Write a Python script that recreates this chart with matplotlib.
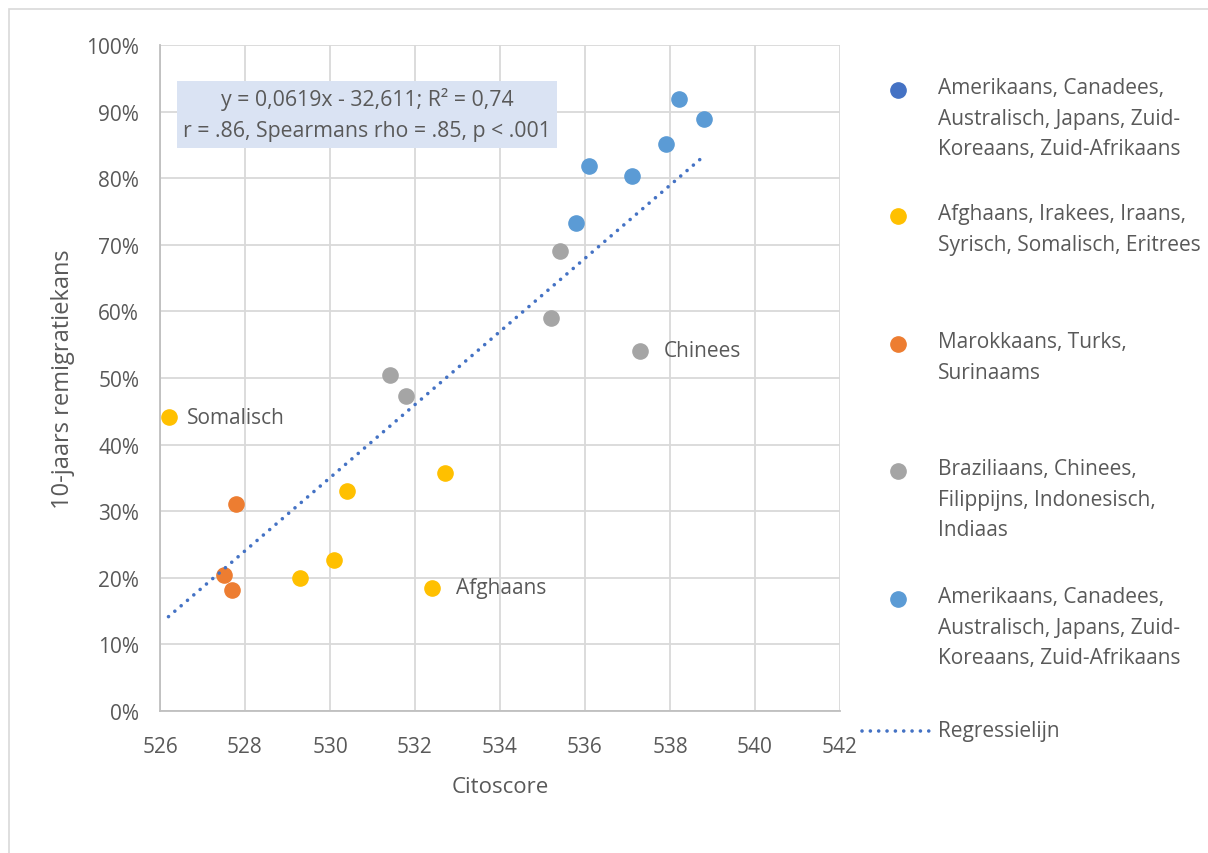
import numpy as np
import matplotlib
matplotlib.use("Agg")
import matplotlib.pyplot as plt
from matplotlib.patches import Rectangle
from matplotlib.lines import Line2D

plt.rcParams['font.family'] = ['Open Sans', 'DejaVu Sans']

# Citoscore vs 10-jaars remigratiekans (%) per groep
west_x = [538.2, 538.8, 537.9, 536.1, 537.1, 535.8]
west_y = [91.9, 88.9, 85.1, 81.8, 80.3, 73.3]

azie_x = [535.4, 535.2, 537.3, 531.4, 531.8]
azie_y = [69.1, 59.0, 54.1, 50.4, 47.3]

vlucht_x = [526.2, 532.7, 530.4, 530.1, 529.3, 532.4]
vlucht_y = [44.1, 35.8, 33.1, 22.7, 19.9, 18.5]

mtks_x = [527.8, 527.5, 527.7]
mtks_y = [31.1, 20.4, 18.2]

labels = ["Amerikaans, Canadees,\nAustralisch, Japans, Zuid-\nKoreaans, Zuid-Afrikaans",
          "Afghaans, Irakees, Iraans,\nSyrisch, Somalisch, Eritrees",
          "Marokkaans, Turks,\nSurinaams",
          "Braziliaans, Chinees,\nFilippijns, Indonesisch,\nIndiaas",
          "Amerikaans, Canadees,\nAustralisch, Japans, Zuid-\nKoreaans, Zuid-Afrikaans"]
colors = ['#4472C4', '#FFC000', '#ED7D31', '#A5A5A5', '#5B9BD5']

txt = '#595959'
fs = 15
dotted = (0, (0.01, 2.3))
fig = plt.figure(figsize=(12.08, 8.54), dpi=100)
ax = fig.add_axes([160/1208, 1-712/854, 680/1208, 666/854])

ms = 120
ax.scatter(vlucht_x, vlucht_y, s=ms, color=colors[1], zorder=3)
ax.scatter(mtks_x, mtks_y, s=ms, color=colors[2], zorder=3)
ax.scatter(azie_x, azie_y, s=ms, color=colors[3], zorder=3)
ax.scatter(west_x, west_y, s=ms, color=colors[4], zorder=3)

# regressielijn over alle punten
all_x = np.array(west_x + azie_x + vlucht_x + mtks_x)
all_y = np.array(west_y + azie_y + vlucht_y + mtks_y)
m, b = np.polyfit(all_x, all_y, 1)
xs = np.array([all_x.min(), all_x.max()])
ax.plot(xs, m*xs+b, color='#4472C4', linestyle=dotted, linewidth=2.6,
        dash_capstyle='round', zorder=4)

# labels bij enkele punten
ax.annotate('Somalisch', (vlucht_x[0], vlucht_y[0]), xytext=(13, 0), textcoords='offset points',
            va='center', fontsize=fs, color=txt)
ax.annotate('Chinees', (azie_x[2], azie_y[2]), xytext=(17, 0), textcoords='offset points',
            va='center', fontsize=fs, color=txt)
ax.annotate('Afghaans', (vlucht_x[5], vlucht_y[5]), xytext=(17, 0), textcoords='offset points',
            va='center', fontsize=fs, color=txt)

ax.text(530.87, 89.6, 'y = 0,0619x - 32,611; R² = 0,74\nr = .86, Spearmans rho = .85, p < .001',
        ha='center', va='center', fontsize=15.3, color=txt, linespacing=1.65,
        bbox=dict(boxstyle='square,pad=0.3', facecolor='#DAE3F3', edgecolor='none'), zorder=5)

ax.set_xlim(526, 542)
ax.set_ylim(0, 100)
ax.set_xticks(np.arange(526, 543, 2))
ax.set_yticks(np.arange(0, 101, 10))
ax.set_yticklabels([f'{v}%' for v in range(0, 101, 10)])
ax.tick_params(length=0, labelsize=fs, labelcolor=txt, pad=15)
ax.tick_params(axis='x', pad=18)
ax.grid(True, color='#D9D9D9', linewidth=1.3)
ax.set_axisbelow(True)
for s in ['top', 'right']:
    ax.spines[s].set_visible(False)
for s in ['left', 'bottom']:
    ax.spines[s].set_color('#BFBFBF')
    ax.spines[s].set_linewidth(1.3)
ax.set_xlabel('Citoscore', fontsize=16, color=txt, labelpad=14)
ax.set_ylabel('10-jaars remigratiekans', fontsize=17, color=txt, labelpad=8)

# legenda
leg_y = [91, 217, 345, 472, 600]
for c, lab, yp in zip(colors, labels, leg_y):
    fy = 1 - yp/854
    fig.add_artist(Line2D([898/1208], [fy], marker='o', markersize=11, color=c, linestyle='none'))
    fig.text(938/1208, fy + 13/854, lab, fontsize=fs, color=txt, va='top', linespacing=1.6)
fy = 1 - 732/854
fig.add_artist(Line2D([862/1208, 930/1208], [fy, fy], color='#4472C4', linestyle=dotted,
                      linewidth=2.6, dash_capstyle='round'))
fig.text(938/1208, fy, 'Regressielijn', fontsize=fs, color=txt, va='center')

fig.add_artist(Rectangle((9/1208, -0.01), 1.0, 1-10/854+0.01, transform=fig.transFigure,
                         fill=False, edgecolor='#D9D9D9', linewidth=1.2))

fig.savefig('out.png', dpi=100)
